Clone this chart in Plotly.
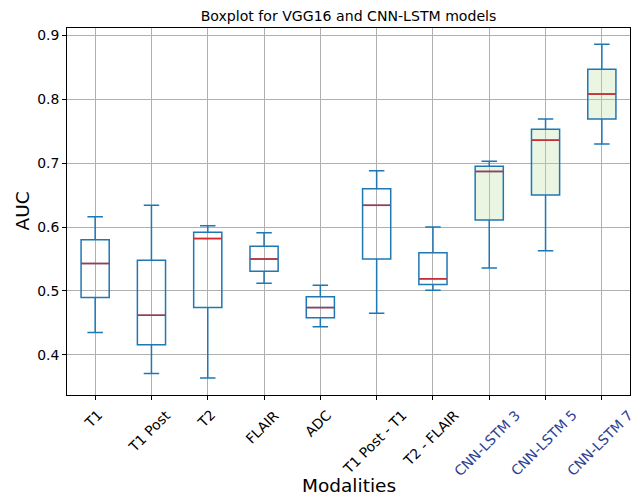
import plotly.graph_objects as go

categories = ["T1", "T1 Post", "T2", "FLAIR", "ADC", "T1 Post - T1", "T2 - FLAIR",
              "CNN-LSTM 3", "CNN-LSTM 5", "CNN-LSTM 7"]
lower = [0.435, 0.371, 0.364, 0.512, 0.444, 0.465, 0.501, 0.536, 0.563, 0.730]
q1 = [0.490, 0.416, 0.474, 0.531, 0.458, 0.550, 0.510, 0.611, 0.650, 0.769]
median = [0.543, 0.462, 0.582, 0.550, 0.474, 0.634, 0.519, 0.687, 0.736, 0.808]
q3 = [0.580, 0.548, 0.592, 0.570, 0.491, 0.660, 0.560, 0.695, 0.753, 0.847]
upper = [0.616, 0.634, 0.602, 0.591, 0.509, 0.688, 0.600, 0.703, 0.769, 0.886]
is_cnn = [False] * 7 + [True] * 3
y_ticks = [0.4, 0.5, 0.6, 0.7, 0.8, 0.9]

BOX_BLUE = "#1f77b4"
MED_RED = "#d62728"
LABEL_BLUE = "#2d4294"
FONT = "DejaVu Sans"
TICK_SIZE = 13.9

H, W = 497, 635
L, R, T, B = 67, 5, 28, 102
ph, pw = H - T - B, W - L - R

fig = go.Figure()
for group, fill in [(False, "rgba(255,255,255,0)"), (True, "rgba(190,225,160,0.3)")]:
    idx = [i for i in range(len(categories)) if is_cnn[i] == group]
    fig.add_trace(go.Box(
        x=idx,
        q1=[q1[i] for i in idx],
        median=[median[i] for i in idx],
        q3=[q3[i] for i in idx],
        lowerfence=[lower[i] for i in idx],
        upperfence=[upper[i] for i in idx],
        width=0.5,
        whiskerwidth=0.55,
        line=dict(color=BOX_BLUE, width=1.5),
        fillcolor=fill,
        boxpoints=False,
        hoverinfo="skip",
        showlegend=False,
    ))

# red median lines
mx, my = [], []
for i, m in enumerate(median):
    mx += [i - 0.245, i + 0.245, None]
    my += [m, m, None]
fig.add_trace(go.Scatter(x=mx, y=my, mode="lines", line=dict(color=MED_RED, width=1.5),
                         hoverinfo="skip", showlegend=False))

# rotated category labels, centred under each tick (matplotlib style)
for i, c in enumerate(categories):
    fig.add_annotation(x=i, xref="x", y=0, yref="paper", yshift=-9, xshift=-2,
                       xanchor="center", yanchor="top", textangle=-45, showarrow=False,
                       text=c, font=dict(family=FONT, size=TICK_SIZE,
                                         color=LABEL_BLUE if is_cnn[i] else "black"))

fig.add_annotation(text="Modalities", x=0.5, xref="paper", y=(H - B - 485) / ph, yref="paper",
                   xanchor="center", yanchor="middle",
                   showarrow=False, font=dict(family=FONT, size=18.5, color="black"))
fig.add_annotation(text="AUC", x=(22 - L) / pw, xref="paper", y=0.5, yref="paper", textangle=-90,
                   xanchor="center", yanchor="middle",
                   showarrow=False, font=dict(family=FONT, size=18.5, color="black"))

axis_common = dict(showline=True, linecolor="black", linewidth=1, mirror=True,
                   showgrid=True, gridcolor="#b0b0b0", gridwidth=1, zeroline=False,
                   ticks="outside", ticklen=4, tickcolor="black", automargin=False,
                   tickfont=dict(family=FONT, size=TICK_SIZE, color="black"))

fig.update_layout(
    width=W, height=H,
    margin=dict(l=L, r=R, t=T, b=B),
    paper_bgcolor="white", plot_bgcolor="white",
    font=dict(family=FONT, color="black"),
    title=dict(text="Boxplot for VGG16 and CNN-LSTM models", x=(L + pw / 2) / W, xanchor="center",
               y=1 - 16 / H, yanchor="middle", font=dict(family=FONT, size=14.1, color="black")),
    xaxis=dict(range=[-0.5, 9.5], tickmode="array", tickvals=list(range(len(categories))),
               showticklabels=False, **axis_common),
    yaxis=dict(range=[0.3373, 0.9114], tickmode="array",
               tickvals=y_ticks, ticktext=[f"{v:.1f}" for v in y_ticks],
               **axis_common),
)

fig.write_html("out.html", config={"displayModeBar": False},
               post_script="document.body.style.margin='0';document.body.style.padding='0';")
